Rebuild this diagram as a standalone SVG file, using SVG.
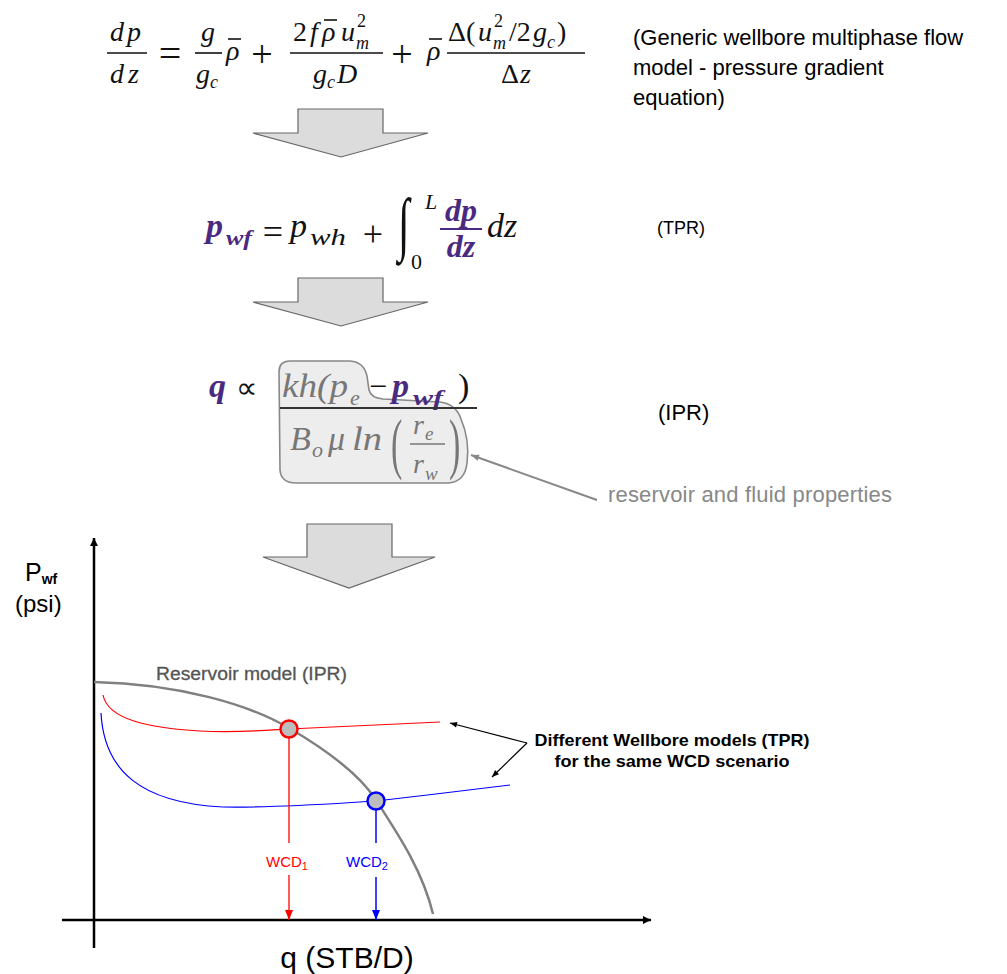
<svg xmlns="http://www.w3.org/2000/svg" width="1007" height="974" viewBox="0 0 1007 974">
<defs>
<style>
.m{font-family:"Liberation Serif","Times New Roman",serif;font-style:italic;fill:#111}
.mr{font-family:"Liberation Serif","Times New Roman",serif;fill:#111}
.b{font-weight:bold;fill:#4a2a80}
.s{font-family:"Liberation Sans",Arial,sans-serif}
.bar{stroke:#111;stroke-width:1.6}
.gy{fill:#777}
.big{fill:#dcdcdc;stroke:#666;stroke-width:1.2}
</style>
<marker id="ah" viewBox="0 0 10 10" refX="10" refY="5" markerWidth="8" markerHeight="8" orient="auto" markerUnits="userSpaceOnUse"><path d="M0,0 L10,5 L0,10 Z" fill="#000"/></marker>
<marker id="ahs" viewBox="0 0 10 10" refX="10" refY="5" markerWidth="9" markerHeight="7" orient="auto" markerUnits="userSpaceOnUse"><path d="M0,1 L10,5 L0,9 Z" fill="#000"/></marker>
<marker id="ahg" viewBox="0 0 10 10" refX="10" refY="5" markerWidth="10" markerHeight="8" orient="auto" markerUnits="userSpaceOnUse"><path d="M0,1 L10,5 L0,9 Z" fill="#888"/></marker>
<marker id="ahr" viewBox="0 0 10 10" refX="10" refY="5" markerWidth="10" markerHeight="10" orient="auto" markerUnits="userSpaceOnUse"><path d="M0,1 L10,5 L0,9 Z" fill="#f00"/></marker>
<marker id="ahb" viewBox="0 0 10 10" refX="10" refY="5" markerWidth="10" markerHeight="10" orient="auto" markerUnits="userSpaceOnUse"><path d="M0,1 L10,5 L0,9 Z" fill="#00f"/></marker>
</defs>

<!-- Equation 1 -->
<g id="eq1">
<text class="m" font-size="28" x="110" y="41">d</text><text class="m" font-size="28" x="127" y="41">p</text>
<line class="bar" x1="107" y1="53" x2="147" y2="53"/>
<text class="m" font-size="28" x="110" y="83">d</text><text class="m" font-size="28" x="128" y="83">z</text>
<text class="mr" font-size="40" x="170" y="67" text-anchor="middle">=</text>
<text class="m" font-size="28" x="201" y="41">g</text>
<line class="bar" x1="195" y1="53" x2="222" y2="53"/>
<text class="m" font-size="28" x="196" y="83">g</text><text class="m" font-size="18" x="210" y="88">c</text>
<text class="m" font-size="28" x="226" y="60">ρ</text><line class="bar" x1="228" y1="39" x2="241" y2="39"/>
<text class="mr" font-size="38" x="262" y="67" text-anchor="middle">+</text>
<text class="mr" font-size="28" x="293" y="41">2</text><text class="m" font-size="28" x="310" y="41">f</text>
<text class="m" font-size="28" x="322" y="41">ρ</text><line class="bar" x1="324" y1="20" x2="337" y2="20"/>
<text class="m" font-size="28" x="341" y="41">u</text><text class="mr" font-size="18" x="357" y="27">2</text><text class="m" font-size="18" x="356" y="49">m</text>
<line class="bar" x1="290" y1="53" x2="383" y2="53"/>
<text class="m" font-size="28" x="313" y="83">g</text><text class="m" font-size="18" x="327" y="88">c</text><text class="m" font-size="28" x="337" y="83">D</text>
<text class="mr" font-size="38" x="402" y="67" text-anchor="middle">+</text>
<text class="m" font-size="28" x="427" y="60">ρ</text><line class="bar" x1="429" y1="39" x2="442" y2="39"/>
<text class="mr" font-size="28" x="448" y="41">Δ(</text><text class="m" font-size="28" x="478" y="41">u</text><text class="mr" font-size="18" x="494" y="27">2</text><text class="m" font-size="18" x="493" y="49">m</text>
<text class="mr" font-size="28" x="509" y="41">/2</text><text class="m" font-size="28" x="533" y="41">g</text><text class="m" font-size="18" x="547" y="48">c</text><text class="mr" font-size="28" x="557" y="41">)</text>
<line class="bar" x1="447" y1="53" x2="585" y2="53"/>
<text class="mr" font-size="28" x="501" y="83">Δ</text><text class="m" font-size="28" x="520" y="83">z</text>
</g>
<g id="note1" class="s" font-size="22" fill="#000">
<text x="633" y="45">(Generic wellbore multiphase flow</text>
<text x="633" y="75">model - pressure gradient</text>
<text x="633" y="105">equation)</text>
</g>

<!-- Arrows -->
<g id="arrow1"><polygon class="big" points="298,109 383,109 383,133 428,133 341,157 253,133 298,133"/></g>
<g id="arrow2"><polygon class="big" points="298,278 383,278 383,302 428,302 341,326 253,302 298,302"/></g>
<g id="arrow3"><polygon class="big" points="307,524 392,524 392,557 435,557 349,588 263,557 307,557"/></g>

<!-- Equation 2 -->
<g id="eq2">
<text class="m b" font-size="34" x="206" y="237">p</text><text class="m b" font-size="22" x="226" y="245" textLength="26" lengthAdjust="spacingAndGlyphs">wf</text>
<text class="mr" font-size="36" x="273" y="244" text-anchor="middle" fill="#4a2a80">=</text>
<text class="m" font-size="34" x="290" y="237">p</text><text class="m" font-size="24" x="310" y="245" textLength="36" lengthAdjust="spacingAndGlyphs">wh</text>
<text class="mr" font-size="36" x="373" y="246" text-anchor="middle">+</text>
<text class="mr" font-size="70" transform="translate(398,247) scale(0.6,1)">∫</text>
<text class="m" font-size="22" x="425" y="209">L</text>
<text class="mr" font-size="22" x="411" y="269">0</text>
<text class="m b" font-size="32" x="461" y="221" text-anchor="middle">dp</text>
<line x1="440" y1="229" x2="482" y2="229" stroke="#4a2a80" stroke-width="2"/>
<text class="m b" font-size="32" x="461" y="257" text-anchor="middle">dz</text>
<text class="m" font-size="34" x="487" y="237">dz</text>
</g>
<g id="note2"><text class="s" font-size="18" x="657" y="234">(TPR)</text></g>

<!-- Equation 3 -->
<g id="eq3">
<path d="M279,372 Q279,361 290,361 L350,361 Q364,362 367,376 L369,390 Q371,398 383,399 L440,402 Q456,404 461,419 Q470,440 467,463 Q465,482 448,483 L296,483 Q281,483 280,470 Z" fill="#e8e8e8" fill-opacity="0.8" stroke="#888" stroke-width="1.6"/>
<text class="m b" font-size="34" x="209" y="397">q</text>
<text class="mr" font-size="30" x="236" y="398">∝</text>
<text class="m gy" font-size="34" x="282" y="397" textLength="66" lengthAdjust="spacingAndGlyphs">kh(p</text><text class="m gy" font-size="22" x="350" y="405">e</text>
<text class="mr" font-size="32" x="369" y="397">−</text>
<text class="m b" font-size="34" x="392" y="397">p</text><text class="m b" font-size="22" x="413" y="405" textLength="30" lengthAdjust="spacingAndGlyphs">wf</text>
<text class="mr" font-size="34" x="458" y="397">)</text>
<line x1="280" y1="408" x2="477" y2="408" stroke="#333" stroke-width="1.8"/>
<text class="m gy" font-size="34" x="290" y="450">B</text><text class="m gy" font-size="22" x="312" y="457">o</text>
<text class="m gy" font-size="34" x="328" y="450">μ</text>
<text class="m gy" font-size="34" x="352" y="450" textLength="30" lengthAdjust="spacingAndGlyphs">ln</text>
<text class="mr gy" font-size="34" transform="translate(391,466) scale(1,2)">(</text>
<text class="m gy" font-size="28" x="413" y="434">r</text><text class="m gy" font-size="19" x="425" y="440">e</text>
<line x1="410" y1="444" x2="445" y2="444" stroke="#777" stroke-width="1.4"/>
<text class="m gy" font-size="28" x="413" y="473">r</text><text class="m gy" font-size="19" x="425" y="480">w</text>
<text class="mr gy" font-size="34" transform="translate(449,466) scale(1,2)">)</text>
</g>
<g id="note3"><text class="s" font-size="22" x="658" y="420">(IPR)</text></g>
<g id="props">
<text class="s" font-size="22" x="608" y="502" fill="#888" textLength="284">reservoir and fluid properties</text>
</g>

<!-- Graph -->
<g id="axes" stroke="#000" stroke-width="2.5" fill="none">
<line x1="94" y1="948" x2="94" y2="538" marker-end="url(#ah)"/>
<line x1="62" y1="920" x2="651" y2="920" marker-end="url(#ah)"/>
</g>
<g id="ylabel" class="s" fill="#000">
<text x="25" y="581" font-size="25">P<tspan font-size="14" font-weight="bold" dy="3">wf</tspan></text>
<text x="15" y="612" font-size="24">(psi)</text>
</g>
<g id="xlabel"><text class="s" font-size="30" x="347" y="968" text-anchor="middle">q (STB/D)</text></g>

<g id="ipr">
<path d="M94,682 C180,684 250,705 289,728 C330,752 360,775 376,800 C400,837 423,872 433,914" fill="none" stroke="#808080" stroke-width="2.5"/>
<text class="s" font-size="18" x="156" y="680" fill="#555" stroke="#555" stroke-width="0.3" textLength="191" lengthAdjust="spacingAndGlyphs">Reservoir model (IPR)</text>
</g>
<g id="tpr1"><path d="M103,695 C108,720 150,728 200,731 C240,733 270,730 289,729 C350,726 400,724 440,722" fill="none" stroke="#f00" stroke-width="1.2"/></g>
<g id="tpr2"><path d="M101,713 C104,770 140,803 223,807 C280,808 340,803 376,801 C420,796 470,790 510,785" fill="none" stroke="#00f" stroke-width="1.2"/></g>

<g id="connectors">
<line x1="289" y1="737" x2="289" y2="843" stroke="#f00" stroke-width="1.3"/>
<line x1="289" y1="875" x2="289" y2="920" stroke="#f00" stroke-width="1.3" marker-end="url(#ahr)"/>
<line x1="376" y1="809" x2="376" y2="843" stroke="#00f" stroke-width="1.5"/>
<line x1="376" y1="877" x2="376" y2="920" stroke="#00f" stroke-width="1.5" marker-end="url(#ahb)"/>
<line x1="527" y1="743" x2="450" y2="723" stroke="#000" stroke-width="1.2" marker-end="url(#ahs)"/>
<line x1="527" y1="743" x2="492" y2="777" stroke="#000" stroke-width="1.2" marker-end="url(#ahs)"/>
<line x1="597" y1="500" x2="471" y2="455" stroke="#888" stroke-width="2" marker-end="url(#ahg)"/>
</g>

<g id="op1"><circle cx="289" cy="729" r="8.5" fill="#bdbdbd" stroke="#f00" stroke-width="2.5"/></g>
<g id="op2"><circle cx="376" cy="801" r="8.5" fill="#bdbdbd" stroke="#00f" stroke-width="2.5"/></g>

<g id="wcd1"><text class="s" font-size="15" x="266" y="867" fill="#f00">WCD<tspan font-size="11" dy="3">1</tspan></text></g>
<g id="wcd2"><text class="s" font-size="15" x="346" y="867" fill="#00f">WCD<tspan font-size="11" dy="3">2</tspan></text></g>

<g id="note4" class="s" font-size="17" font-weight="bold" fill="#000" text-anchor="middle">
<text x="672" y="746" textLength="275" lengthAdjust="spacingAndGlyphs">Different Wellbore models (TPR)</text>
<text x="672" y="767" textLength="235" lengthAdjust="spacingAndGlyphs">for the same WCD scenario</text>
</g>
</svg>
